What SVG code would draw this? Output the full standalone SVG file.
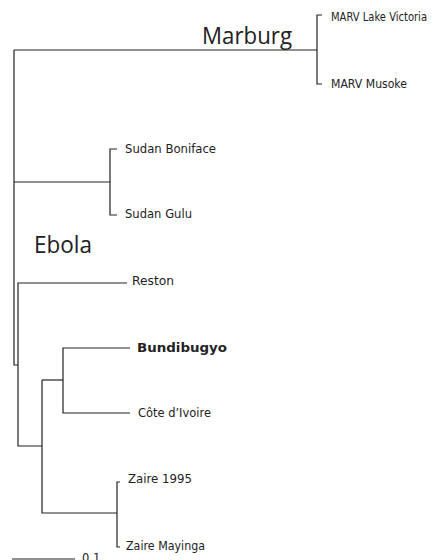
<svg xmlns="http://www.w3.org/2000/svg" width="435" height="560" viewBox="0 0 435 560">
<style>
.e{fill:none;stroke:#222;stroke-width:1.2}
.l{font-family:"DejaVu Sans","Liberation Sans",sans-serif;font-size:11.5px;fill:#222}
.b{font-family:"DejaVu Sans","Liberation Sans",sans-serif;font-size:12px;font-weight:bold;fill:#222}
.g{font-family:"Open Sans","Liberation Sans",sans-serif;font-size:24px;fill:#222}
</style>
<rect width="435" height="560" fill="#fff"/>
<g id="connectors">
<path class="e" d="M14,50 V365 H18"/>
<path class="e" d="M14,50 H317"/>
<path class="e" d="M322,15 H317 V84 H322"/>
<path class="e" d="M14,182 H110"/>
<path class="e" d="M117,149 H110 V215 H117"/>
<path class="e" d="M127,283 H18 V446 H42"/>
<path class="e" d="M42,380 V513 H117"/>
<path class="e" d="M42,380 H63"/>
<path class="e" d="M130,348 H63 V413 H130"/>
<path class="e" d="M120,482 H117 V547 H120"/>
<path class="e" d="M12,559 H75"/>
</g>
<g id="marburg"><text class="g" x="202" y="44" textLength="90" lengthAdjust="spacingAndGlyphs">Marburg</text></g>
<g id="ebola"><text class="g" x="34" y="253" textLength="58" lengthAdjust="spacingAndGlyphs">Ebola</text></g>
<g id="marv-lake-victoria"><text class="l" x="331" y="21" textLength="96" lengthAdjust="spacingAndGlyphs">MARV Lake Victoria</text></g>
<g id="marv-musoke"><text class="l" x="331" y="88" textLength="76" lengthAdjust="spacingAndGlyphs">MARV Musoke</text></g>
<g id="sudan-boniface"><text class="l" x="125" y="153" textLength="91" lengthAdjust="spacingAndGlyphs">Sudan Boniface</text></g>
<g id="sudan-gulu"><text class="l" x="125" y="218" textLength="67" lengthAdjust="spacingAndGlyphs">Sudan Gulu</text></g>
<g id="reston"><text class="l" x="132" y="285" textLength="42" lengthAdjust="spacingAndGlyphs">Reston</text></g>
<g id="bundibugyo"><text class="b" x="137" y="352" textLength="90" lengthAdjust="spacingAndGlyphs">Bundibugyo</text></g>
<g id="cote-divoire"><text class="l" x="138" y="417" textLength="73" lengthAdjust="spacingAndGlyphs">Côte d’Ivoire</text></g>
<g id="zaire-1995"><text class="l" x="128" y="483" textLength="64" lengthAdjust="spacingAndGlyphs">Zaire 1995</text></g>
<g id="zaire-mayinga"><text class="l" x="126" y="550" textLength="79" lengthAdjust="spacingAndGlyphs">Zaire Mayinga</text></g>
<g id="scale"><text class="l" x="82" y="562">0.1</text></g>
</svg>
